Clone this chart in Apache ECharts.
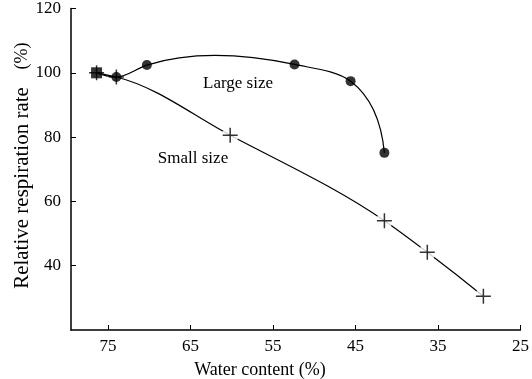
<!DOCTYPE html>
<html>
<head>
<meta charset="utf-8">
<script src="https://cdn.jsdelivr.net/npm/echarts@6/dist/echarts.min.js"></script>
<style>html,body{margin:0;padding:0;background:#fff;}#c{width:532px;height:379px;}</style>
</head>
<body>
<div id="c"></div>
<script>
// Data
const largeWater = [76.4, 74.0, 70.3, 52.4, 45.6, 41.5];
const largeRate  = [100, 98.7, 102.4, 102.6, 97.4, 75.1];
const smallWater = [76.4, 74.0, 60.2, 41.5, 36.3, 29.5];
const smallRate  = [100, 98.7, 80.6, 54.0, 44.2, 30.5];
const xTicks = [75, 65, 55, 45, 35, 25];
const yTicks = [40, 60, 80, 100, 120];
const largeLabel = 'Large size';
const smallLabel = 'Small size';

const FONT = '"Liberation Serif", "DejaVu Serif", serif';
const crossPath = 'path://M0,5L10,5M5,0L5,10';

// Smooth parametric curve (Bessel tangents, chord-length) through pixel points from api.coord
function curvePath(pts) {
  const n = pts.length;
  const L = [], u = [];
  for (let i = 0; i < n - 1; i++) {
    const dx = pts[i + 1][0] - pts[i][0], dy = pts[i + 1][1] - pts[i][1];
    const l = Math.sqrt(dx * dx + dy * dy);
    L.push(l); u.push([dx / l, dy / l]);
  }
  const m = new Array(n);
  for (let i = 1; i < n - 1; i++) {
    const a = L[i - 1], b = L[i];
    m[i] = [(u[i - 1][0] * b + u[i][0] * a) / (a + b), (u[i - 1][1] * b + u[i][1] * a) / (a + b)];
  }
  m[0] = [2 * u[0][0] - m[1][0], 2 * u[0][1] - m[1][1]];
  m[n - 1] = [2 * u[n - 2][0] - m[n - 2][0], 2 * u[n - 2][1] - m[n - 2][1]];
  let s = 'M' + pts[0][0] + ',' + pts[0][1];
  for (let i = 0; i < n - 1; i++) {
    const t = L[i] / 3;
    s += 'C' + (pts[i][0] + m[i][0] * t) + ',' + (pts[i][1] + m[i][1] * t) + ' ' +
         (pts[i + 1][0] - m[i + 1][0] * t) + ',' + (pts[i + 1][1] - m[i + 1][1] * t) + ' ' +
         pts[i + 1][0] + ',' + pts[i + 1][1];
  }
  return s;
}
function curveSeries(xs, ys) {
  return {
    type: 'custom', data: [0], silent: true, z: 1,
    renderItem: function (params, api) {
      const pts = xs.map((x, i) => api.coord([x, ys[i]]));
      return {type: 'path', shape: {pathData: curvePath(pts)},
        style: {fill: null, stroke: '#000', lineWidth: 1.2}};
    }
  };
}

const chart = echarts.init(document.getElementById('c'));
const largeData = largeWater.map((x, i) => {
  const d = {value: [x, largeRate[i]]};
  if (i === 0) { d.symbol = 'rect'; d.symbolSize = 11; }
  return d;
});
const smallData = smallWater.map((x, i) => [x, smallRate[i]]);

chart.setOption({
  animation: false,
  backgroundColor: '#fff',
  grid: {left: 71, right: 9, top: 8, bottom: 49},
  xAxis: {
    type: 'value', inverse: true, min: 25, max: 79.5, interval: 10,
    axisLine: {lineStyle: {color: '#000', width: 1.5}},
    axisTick: {inside: true, length: 5, lineStyle: {color: '#000'}},
    axisLabel: {color: '#000', fontFamily: FONT, fontSize: 17, margin: 8, showMaxLabel: false,
      formatter: v => xTicks.indexOf(v) >= 0 ? String(v) : ''},
    splitLine: {show: false}
  },
  yAxis: {
    type: 'value', min: 20, max: 120, interval: 20,
    axisLine: {show: true, lineStyle: {color: '#000', width: 1.5}},
    axisTick: {show: true, inside: true, length: 5, lineStyle: {color: '#000'}},
    axisLabel: {color: '#000', fontFamily: FONT, fontSize: 17, margin: 10, showMinLabel: false,
      formatter: v => yTicks.indexOf(v) >= 0 ? String(v) : ''},
    splitLine: {show: false}
  },
  graphic: [
    {type: 'text', x: 260, y: 370, style: {text: 'Water content (%)', font: '18px ' + FONT, fill: '#000', align: 'center', verticalAlign: 'middle'}},
    {type: 'text', x: 22, y: 188, rotation: Math.PI / 2, style: {text: 'Relative respiration rate', font: '21px ' + FONT, fill: '#000', align: 'center', verticalAlign: 'middle'}},
    {type: 'text', x: 22, y: 56, rotation: Math.PI / 2, style: {text: '(%)', font: '18px ' + FONT, fill: '#000', align: 'center', verticalAlign: 'middle'}},
    {type: 'text', x: 238, y: 84, style: {text: largeLabel, font: '17px ' + FONT, fill: '#000', align: 'center', verticalAlign: 'middle'}},
    {type: 'text', x: 193, y: 159, style: {text: smallLabel, font: '17px ' + FONT, fill: '#000', align: 'center', verticalAlign: 'middle'}}
  ],
  series: [
    curveSeries(smallWater, smallRate),
    curveSeries(largeWater, largeRate),
    {
      type: 'scatter', data: smallData.slice(2), z: 2, silent: true,
      symbol: 'circle', symbolSize: 17,
      itemStyle: {color: '#fff'}
    },
    {
      type: 'scatter', data: smallData, z: 3,
      symbol: crossPath, symbolSize: 15,
      itemStyle: {color: 'none', borderColor: '#000', borderWidth: 1.5}
    },
    {
      type: 'scatter', data: largeData, z: 4,
      symbol: 'circle', symbolSize: 10,
      itemStyle: {color: '#000'}
    }
  ]
});
</script>
</body>
</html>
